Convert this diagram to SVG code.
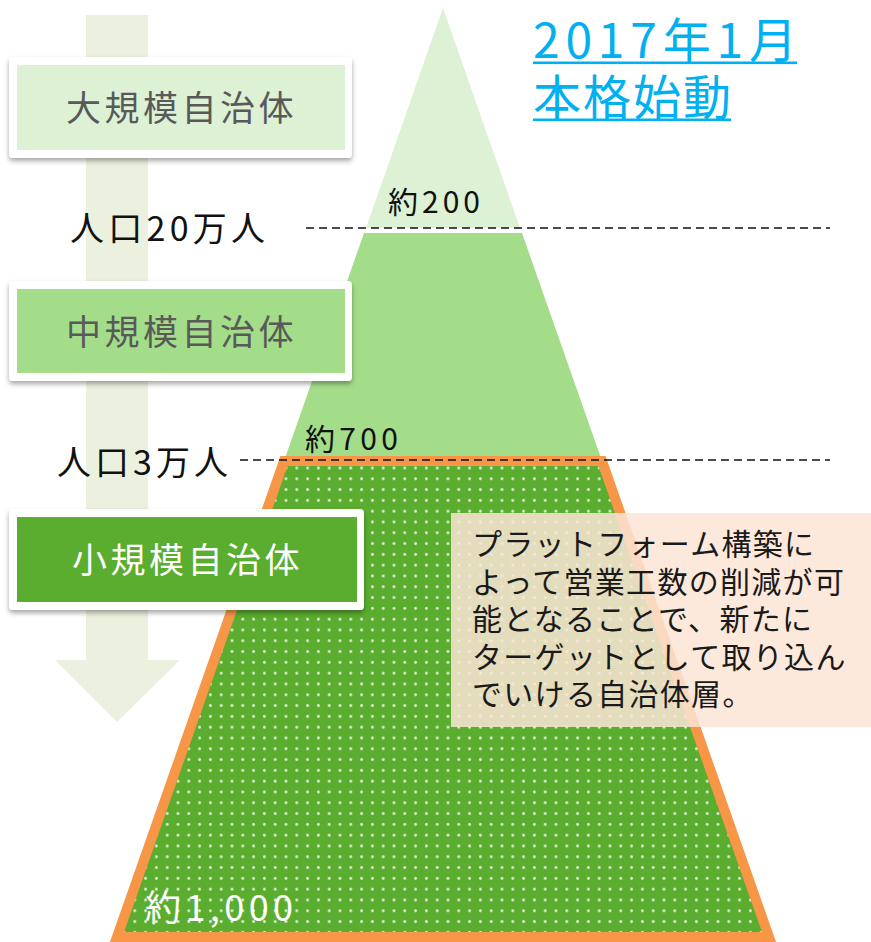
<svg xmlns="http://www.w3.org/2000/svg" width="871" height="942" viewBox="0 0 871 942">
<defs>
<pattern id="dots" patternUnits="userSpaceOnUse" x="10.6" y="9" width="10.8" height="10.8">
<circle cx="5.4" cy="5.4" r="1.4" fill="#ffffff" fill-opacity="0.85"/>
</pattern>
<filter id="sh" x="-10%" y="-20%" width="120%" height="150%">
<feDropShadow dx="0" dy="3" stdDeviation="2.5" flood-color="#000" flood-opacity="0.35"/>
</filter>
<style>
.jp{font-family:"Noto Sans CJK JP","Noto Sans",sans-serif;}
.frame{fill:#ffffff;filter:url(#sh);}
.lbl{font-size:35px;letter-spacing:3.5px;}
.pop{font-size:34px;fill:#111;}
.cnt{font-size:30px;fill:#111;}
.dash{stroke:#111;stroke-width:1.6;stroke-dasharray:8 5;fill:none;}
.note{font-size:30px;letter-spacing:1.3px;fill:#1a1a1a;}
.title{font-size:48px;fill:#00b0f0;}
</style>
</defs>
<rect width="871" height="942" fill="#ffffff"/>

<g id="flow-arrow">
<polygon points="86,15 148,15 148,660 180,660 117,722 55,660 86,660" fill="#ebf1de"/>
</g>

<g id="pyramid">
<polygon id="tier-large" points="443,8 520,228 366,228" fill="#ddf1d5"/>
<polygon id="tier-medium" points="364,233 522,233 602,461 284,461" fill="#a3dd8a"/>
<g id="tier-small">
<polygon points="284,461 602,461 769,937 117,937" fill="#5aad2f"/>
<polygon points="284,461 602,461 769,937 117,937" fill="url(#dots)" stroke="#f79646" stroke-width="10" stroke-linejoin="miter"/>
</g>
</g>

<g id="node-large">
<rect class="frame" x="9" y="57" width="343" height="101" rx="4"/>
<rect x="17" y="65" width="328" height="85" fill="#ddf1d5"/>
<text class="jp lbl" x="66" y="121" fill="#595959">大規模自治体</text>
</g>

<g id="node-medium">
<rect class="frame" x="9" y="281" width="343" height="100" rx="4"/>
<rect x="17" y="289" width="328" height="84" fill="#a3dd8a"/>
<text class="jp lbl" x="66" y="345" fill="#595959">中規模自治体</text>
</g>

<g id="node-small">
<rect class="frame" x="9" y="509" width="355" height="101" rx="4"/>
<rect x="17" y="517" width="340" height="85" fill="#5aad2f"/>
<text class="jp lbl" x="72" y="573" fill="#ffffff">小規模自治体</text>
</g>

<g id="guides">
<line class="dash" x1="306" y1="228" x2="830" y2="228"/>
<line class="dash" x1="240" y1="460" x2="830" y2="460"/>
</g>

<g id="labels">
<text class="jp pop" x="70" y="241" textLength="195" lengthAdjust="spacing">人口20万人</text>
<text class="jp pop" x="57" y="475" textLength="171" lengthAdjust="spacing">人口3万人</text>
<text class="jp cnt" x="388" y="213" textLength="92" lengthAdjust="spacing">約200</text>
<text class="jp cnt" x="305" y="450" textLength="93" lengthAdjust="spacing">約700</text>
<text class="jp" x="145" y="921" font-size="36" fill="#ffffff" textLength="148" lengthAdjust="spacing">約1,000</text>
</g>

<g id="title">
<text class="jp title" x="533" y="58" textLength="264" lengthAdjust="spacing">2017年1月</text>
<rect x="533" y="61.5" width="264" height="2.6" fill="#00b0f0"/>
<text class="jp title" x="533" y="115" textLength="198" lengthAdjust="spacing">本格始動</text>
<rect x="533" y="118.5" width="198" height="2.6" fill="#00b0f0"/>
</g>

<g id="note">
<rect x="451" y="513" width="420" height="214" fill="#fbe5d6" fill-opacity="0.85"/>
<text class="jp note" x="472" y="555">プラットフォーム構築に</text>
<text class="jp note" x="472" y="592.5">よって営業工数の削減が可</text>
<text class="jp note" x="472" y="630">能となることで、新たに</text>
<text class="jp note" x="472" y="667.5">ターゲットとして取り込ん</text>
<text class="jp note" x="472" y="705">でいける自治体層。</text>
</g>
</svg>
